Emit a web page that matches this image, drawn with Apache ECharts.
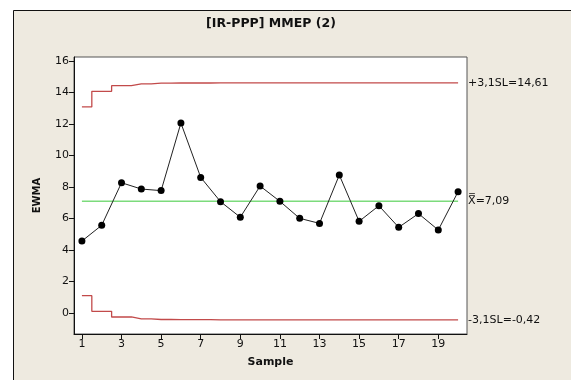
<!DOCTYPE html>
<html>
<head>
<meta charset="utf-8">
<script src="https://cdn.jsdelivr.net/npm/echarts@6/dist/echarts.min.js"></script>
<style>
  html, body { margin: 0; padding: 0; background: #ffffff; overflow: hidden; }
  #chart { width: 571px; height: 380px; }
</style>
</head>
<body>
<div id="chart"></div>
<script>
// EWMA chart for [IR-PPP] MMEP (2)
const samples = [1, 2, 3, 4, 5, 6, 7, 8, 9, 10, 11, 12, 13, 14, 15, 16, 17, 18, 19, 20];
const ewma = [4.57, 5.57, 8.27, 7.87, 7.77, 12.06, 8.61, 7.07, 6.08, 8.06,
              7.09, 6.01, 5.69, 8.76, 5.82, 6.81, 5.44, 6.31, 5.27, 7.70];
const centerLine = 7.09;
const upperLimit = [13.08, 14.07, 14.43, 14.55, 14.59, 14.60, 14.60, 14.61, 14.61, 14.61,
                    14.61, 14.61, 14.61, 14.61, 14.61, 14.61, 14.61, 14.61, 14.61, 14.61];
const lowerLimit = [1.10, 0.11, -0.25, -0.37, -0.41, -0.42, -0.42, -0.43, -0.43, -0.43,
                    -0.43, -0.43, -0.43, -0.43, -0.43, -0.43, -0.43, -0.43, -0.43, -0.43];
const yTicks = [0, 2, 4, 6, 8, 10, 12, 14, 16];
const xTicks = [1, 3, 5, 7, 9, 11, 13, 15, 17, 19];
const uclText = '+3,1SL=14,61';
const clText = 'X\u033F=7,09';
const lclText = '-3,1SL=-0,42';

const font = 'DejaVu Sans';
const pair = (vals) => samples.map((s, i) => [s, vals[i]]);

const chart = echarts.init(document.getElementById('chart'), null, { renderer: 'canvas' });

chart.setOption({
  animation: false,
  backgroundColor: '#ffffff',
  graphic: [
    // outer panel fill, with its left and top edges drawn
    { type: 'rect', z: -10, shape: { x: 13, y: 10, width: 600, height: 400 },
      style: { fill: '#EEEAE0', stroke: null } },
    { type: 'polyline', z: -9, shape: { points: [[13.5, 400], [13.5, 10.5], [600, 10.5]] },
      style: { stroke: '#111111', lineWidth: 1, fill: null } }
  ],
  title: {
    text: '[IR-PPP] MMEP (2)',
    left: 266, top: 12, textAlign: 'center',
    textStyle: { fontFamily: font, fontWeight: 'bold', fontSize: 12.5, color: '#111111' }
  },
  grid: {
    left: 74, top: 57, right: 104, bottom: 46,
    show: true, backgroundColor: '#ffffff', borderColor: '#555555', borderWidth: 1
  },
  xAxis: {
    type: 'value', min: 0.6, max: 20.45,
    name: 'Sample', nameLocation: 'middle', nameGap: 23,
    nameTextStyle: { fontFamily: font, fontWeight: 'bold', fontSize: 11, color: '#111111' },
    axisLine: { show: true, onZero: false, lineStyle: { color: '#111111' } },
    axisTick: { show: true, length: 5, customValues: xTicks, lineStyle: { color: '#111111' } },
    axisLabel: { customValues: xTicks, fontFamily: font, fontSize: 11, color: '#111111', margin: 5 },
    splitLine: { show: false }
  },
  yAxis: {
    type: 'value', min: -1.33, max: 16.25,
    name: 'EWMA', nameLocation: 'middle', nameGap: 32, nameRotate: 90,
    nameTextStyle: { fontFamily: font, fontWeight: 'bold', fontSize: 10, color: '#111111' },
    axisLine: { show: true, onZero: false, lineStyle: { color: '#111111' } },
    axisTick: { show: true, length: 5, customValues: yTicks, lineStyle: { color: '#111111' } },
    axisLabel: { customValues: yTicks, fontFamily: font, fontSize: 11, color: '#111111', margin: 5 },
    splitLine: { show: false }
  },
  series: [
    {
      name: 'UCL', type: 'line', step: 'middle', data: pair(upperLimit),
      symbol: 'none', lineStyle: { color: '#C24A4A', width: 1.3 },
      endLabel: { show: true, formatter: uclText, distance: 10,
                  fontFamily: font, fontSize: 11, color: '#111111' }
    },
    {
      name: 'LCL', type: 'line', step: 'middle', data: pair(lowerLimit),
      symbol: 'none', lineStyle: { color: '#C24A4A', width: 1.3 },
      endLabel: { show: true, formatter: lclText, distance: 10,
                  fontFamily: font, fontSize: 11, color: '#111111' }
    },
    {
      name: 'CL', type: 'line', data: pair(samples.map(() => centerLine)),
      symbol: 'none', lineStyle: { color: '#7CDB7C', width: 1.5 },
      endLabel: { show: true, formatter: clText, distance: 10,
                  fontFamily: font, fontSize: 11, color: '#111111' }
    },
    {
      name: 'EWMA', type: 'line', data: pair(ewma), z: 5,
      symbol: 'circle', symbolSize: 7,
      itemStyle: { color: '#000000' },
      lineStyle: { color: '#222222', width: 1 }
    }
  ]
});
</script>
</body>
</html>
